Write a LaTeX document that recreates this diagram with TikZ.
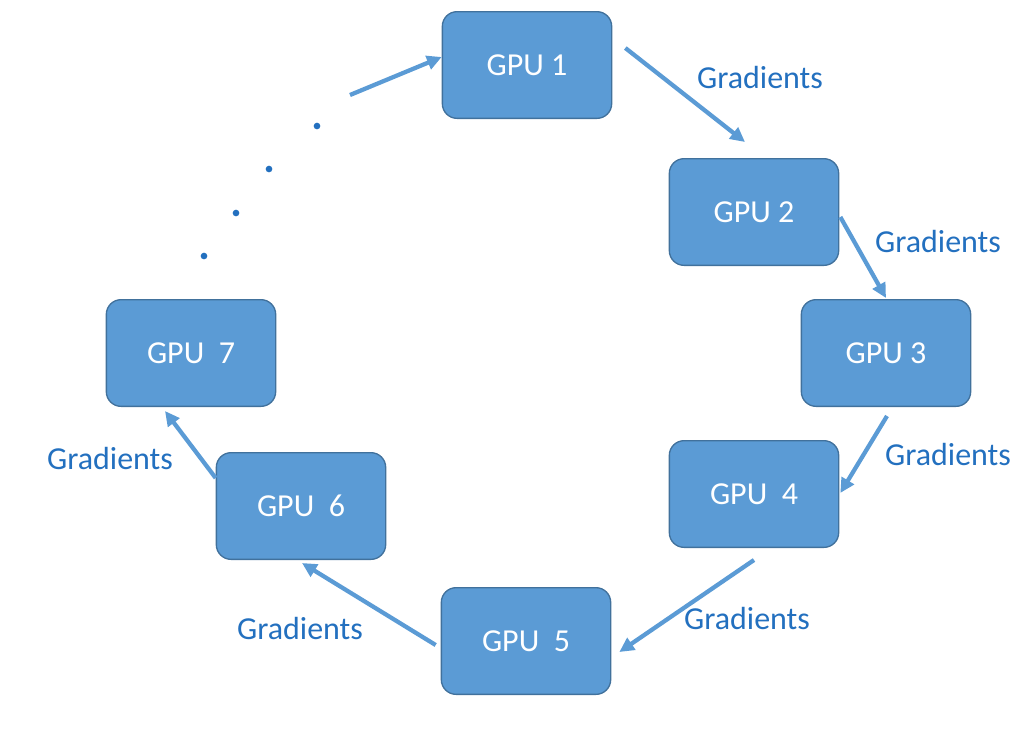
\documentclass[tikz,border=0pt]{standalone}
\usepackage{fontspec}
\setmainfont{Carlito}
\usetikzlibrary{arrows.meta,calc}
\definecolor{boxfill}{HTML}{5B9BD5}
\definecolor{boxline}{HTML}{41719C}
\definecolor{arrowc}{HTML}{5B9BD5}
\definecolor{labc}{HTML}{2370BF}
\tikzset{
  gpu/.style={draw=boxline, line width=1pt, fill=boxfill, rounded corners=11pt,
    minimum width=127pt, minimum height=80pt, text=white, font=\fontsize{24}{28}\selectfont, inner sep=0pt},
  link/.style={draw=arrowc, line width=3.2pt, -{Triangle[length=11pt,width=10.5pt]}},
  grad/.style={text=labc, font=\fontsize{24}{28}\selectfont, inner sep=0pt},
  dotc/.style={fill=labc, circle, inner sep=0pt, minimum size=5pt}
}
\begin{document}
\begin{tikzpicture}[x=0.75pt,y=-0.75pt]
\useasboundingbox (0,0) rectangle (1035,733);
\node[gpu] (g1) at (527,65) {GPU 1};
\node[gpu] (g2) at (754,212) {GPU 2};
\node[gpu] (g3) at (886,353) {GPU 3};
\node[gpu] (g4) at (754,494) {GPU\ \ 4};
\node[gpu] (g5) at (526,641) {GPU\ \ 5};
\node[gpu] (g6) at (301,506) {GPU\ \ 6};
\node[gpu] (g7) at (191,353) {GPU\ \ 7};

\node[grad] (l1) at (760,78) {Gradients};
\node[grad] (l2) at (938,241) {Gradients};
\node[grad] (l3) at (948,454) {Gradients};
\node[grad] (l4) at (747,618) {Gradients};
\node[grad] (l5) at (300,628) {Gradients};
\node[grad] (l6) at (110,458) {Gradients};

\node[dotc] (d1) at (317,126) {};
\node[dotc] (d2) at (269,169) {};
\node[dotc] (d3) at (236,213) {};
\node[dotc] (d4) at (204,256) {};

\coordinate (s1) at (350,95);
\draw[link] (s1) -- ($(g1.west)+(0,-8)$);
\draw[link] ($(g1.east)+(13,-17)$) -- ($(g2.north)+(-9,-16)$);
\draw[link] ($(g2.east)+(1,5)$) -- ($(g3.north)+(0,-1)$);
\draw[link] ($(g3.south)+(1,9)$) -- ($(g4.east)+(1,-1)$);
\draw[link] ($(g4.south)+(0,12)$) -- ($(g5.east)+(8,11)$);
\draw[link] ($(g5.west)+(-5,4)$) -- ($(g6.south)+(1,3)$);
\draw[link] ($(g6.west)+(0,-28)$) -- ($(g7.south)+(-26,4)$);
\end{tikzpicture}
\end{document}
